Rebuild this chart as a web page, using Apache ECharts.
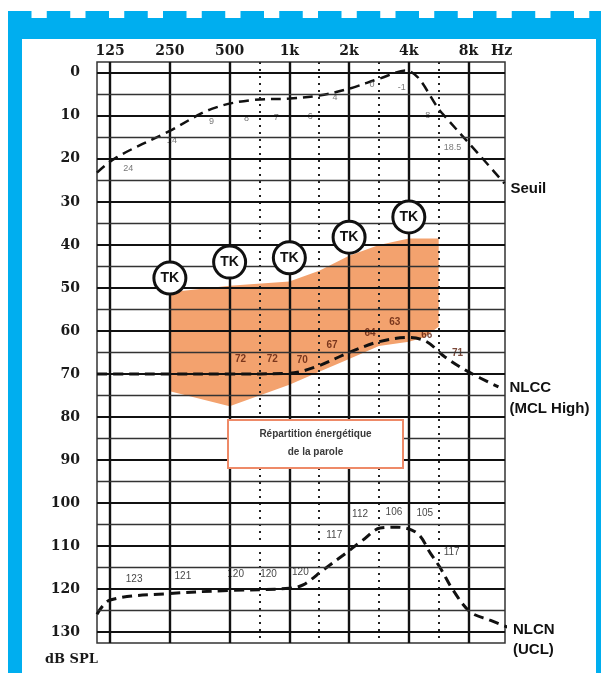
<!DOCTYPE html>
<html><head><meta charset="utf-8">
<script src="https://cdn.jsdelivr.net/npm/echarts@6/dist/echarts.min.js"></script>
<style>html,body{margin:0;padding:0;background:#fff}#c{width:601px;height:673px}</style>
</head><body><div id="c"></div>
<script>
// ---- axes ----
const freqLabels   = ['125','250','500','1k','2k','4k','8k'];
const freqOctaves  = [0,1,2,3,4,5,6];          // octaves above 125 Hz
const halfOctaves  = [2.5,3.5,4.5,5.5];        // 750, 1.5k, 3k, 6k (dotted)
const dbTicks      = [0,10,20,30,40,50,60,70,80,90,100,110,120,130];
const dbGridLines  = [0,5,10,15,20,25,30,35,40,45,50,55,60,65,70,75,80,85,90,95,100,105,110,115,120,125,130];

// ---- Seuil (threshold) ----
const seuilOct = [-0.22, 0.1, 1, 1.7, 2.4, 3, 3.5, 4, 4.5, 4.95, 5.55, 6.15, 6.6];
const seuilDb  = [23.2, 19.7, 13.5, 8.4, 6.3, 6, 5.3, 3.7, 1.4, -0.5, 9.3, 18.6, 25.7];
const seuilLabelOct = [0, 1, 2, 2.5, 3, 3.5, 4, 4.5, 5, 5.5, 6];
const seuilLabelVal = [24, 14, 9, 8, 7, 6, 4, 0, -1, 8, 18.5];

// ---- NLCC (MCL High) ----
const nlccOct = [-0.22, 0, 1, 2, 3, 3.45, 4, 4.5, 5, 5.3, 5.6, 6, 6.5];
const nlccDb  = [70, 70, 70, 70, 69.8, 68.3, 65, 62.5, 61.5, 62.5, 66, 69.5, 73];
const nlccLabelOct = [2.5, 3, 3.5, 4, 4.5, 5, 5.5, 6];
const nlccLabelVal = [72, 72, 70, 67, 64, 63, 66, 71];

// ---- NLCN (UCL) ----
const nlcnOct = [-0.22, 0, 1, 2, 3, 3.23, 3.56, 3.9, 4.23, 4.52, 4.8, 5.14, 5.36, 5.52, 5.74, 6.03, 6.36, 6.65];
const nlcnDb  = [125.8, 122.5, 121, 120.3, 119.8, 119, 115.6, 112.1, 108.6, 105.8, 105.6, 107, 111.6, 114.9, 120.2, 125.3, 127.2, 128.8];
const nlcnLabelOct = [0, 1, 2, 2.5, 3, 3.5, 4, 4.5, 5, 5.5];
const nlcnLabelVal = [123, 121, 120, 120, 120, 117, 112, 106, 105, 117];

// ---- TK markers ----
const tkOct = [1, 2, 3, 4, 5];
const tkDb  = [47.7, 44, 43, 38.2, 33.5];

// ---- speech energy region ----
const regionTopOct = [1, 2, 3, 3.5, 4, 4.5, 5, 5.5];
const regionTopDb  = [51, 49.5, 48.5, 46, 42.5, 40, 38.5, 38.5];
const regionBotOct = [1, 2, 3, 3.5, 4, 4.5, 5, 5.25, 5.5];
const regionBotDb  = [74, 77.5, 72.5, 69.5, 66.5, 63.5, 62.5, 61.5, 59];

// ---- label placement (style only, pixels) ----
const seuilLabelShift = [[18,-8],[2,8],[-18,10],[-13,11],[-13,15],[-9,18],[-14,8],[-7,12],[-7,19],[-11,8],[-16,-5]];
const nlccLabelShift  = [[-19,-23],[-17,-23],[-17,-14],[-17,-16],[-9,-15],[-14,-22],[-12,-22],[-11,-25]];
const nlcnLabelShift  = [[24,-23],[13,-17],[6,-15],[9,-15],[11,-17],[15,-41],[11,-41],[15,-17],[16,-11],[13,-24]];

const serif = '"DejaVu Serif", serif';
const sans = '"Liberation Sans", Arial, sans-serif';
const pairs = (xs, ys) => xs.map((x, i) => [x, ys[i]]);

const gridLines = [];
freqOctaves.forEach(o => gridLines.push({ xAxis: o, lineStyle: { color: '#111', width: 2.4, type: 'solid' } }));
halfOctaves.forEach(o => gridLines.push({ xAxis: o, lineStyle: { color: '#222', width: 2, type: [2, 5] } }));
dbGridLines.forEach(d => gridLines.push({ yAxis: d, lineStyle: d % 10 === 0 ? { color: '#111', width: 2, type: 'solid' } : { color: '#333', width: 1.3, type: 'solid' } }));

const dashed = (w) => ({ color: '#111', width: w, type: [10, 6], cap: 'butt' });

const labelSeries = (name, xs, vals, shifts, font) => ({
  name, type: 'scatter', z: 3, silent: true, symbolSize: 1,
  itemStyle: { color: 'transparent' },
  data: xs.map((x, i) => ({ value: [x, vals[i]], label: { offset: shifts[i] } })),
  label: Object.assign({ show: true, position: 'inside', formatter: p => String(p.value[1]) }, font)
});

const blueFrame = [];
blueFrame.push({ type: 'rect', shape: { x: 8, y: 18, width: 593, height: 21 }, style: { fill: '#00AEEF' } });
blueFrame.push({ type: 'rect', shape: { x: 8, y: 18, width: 14, height: 655 }, style: { fill: '#00AEEF' } });
blueFrame.push({ type: 'rect', shape: { x: 596, y: 18, width: 5, height: 655 }, style: { fill: '#00AEEF' } });
for (let x = 8; x < 601; x += 38.75) {
  blueFrame.push({ type: 'rect', shape: { x: x, y: 11, width: Math.min(23.5, 601 - x), height: 8 }, style: { fill: '#00AEEF' } });
}

const endLabelFont = { fontFamily: sans, fontWeight: 'bold', fontSize: 15, color: '#111' };

const option = {
  backgroundColor: '#fff',
  animation: false,
  grid: { left: 97, top: 62, width: 408, height: 581, show: true, borderColor: '#333', borderWidth: 1.5, backgroundColor: 'transparent' },
  xAxis: {
    type: 'value', position: 'top', min: -0.22, max: 6.61,
    axisLine: { show: false }, axisTick: { show: false }, splitLine: { show: false },
    axisLabel: {
      customValues: freqOctaves, margin: 4,
      formatter: v => freqLabels[freqOctaves.indexOf(v)] || '',
      fontFamily: serif, fontWeight: 'bold', fontSize: 14, color: '#1a1a1a'
    }
  },
  yAxis: {
    type: 'value', inverse: true, min: -2.5, max: 132.5,
    axisLine: { show: false }, axisTick: { show: false }, splitLine: { show: false },
    axisLabel: {
      customValues: dbTicks, margin: 17,
      fontFamily: serif, fontWeight: 'bold', fontSize: 14, color: '#1a1a1a'
    }
  },
  graphic: blueFrame.concat([
    { type: 'text', x: 491, y: 51, style: { text: 'Hz', font: 'bold 14px ' + serif, fill: '#1a1a1a', verticalAlign: 'middle' } },
    { type: 'text', x: 45, y: 660, style: { text: 'dB SPL', font: 'bold 13px ' + serif, fill: '#1a1a1a', verticalAlign: 'middle' } },
    { type: 'rect', z: 100, zlevel: 1, shape: { x: 228, y: 420, width: 175, height: 48 }, style: { fill: '#fff', stroke: '#EE8A68', lineWidth: 2 } },
    { type: 'text', z: 101, zlevel: 1, x: 315.5, y: 443.5, style: { text: 'Répartition énergétique\nde la parole', font: 'bold 10px ' + sans, fill: '#3a3a3a', align: 'center', verticalAlign: 'middle', lineHeight: 18 } }
  ]),
  series: [
    { name: 'region', type: 'custom', z: 0, silent: true, data: [0],
      renderItem: (params, api) => {
        const pts = regionTopOct.map((o, i) => api.coord([o, regionTopDb[i]]));
        for (let i = regionBotOct.length - 1; i >= 0; i--) pts.push(api.coord([regionBotOct[i], regionBotDb[i]]));
        return { type: 'polygon', shape: { points: pts }, style: { fill: '#F3A26E' } };
      } },
    { name: 'grid', type: 'line', z: 1, silent: true, data: [[0, 0]], showSymbol: false, lineStyle: { opacity: 0 },
      markLine: { silent: true, symbol: 'none', label: { show: false }, data: gridLines } },
    { name: 'Seuil', type: 'line', z: 3, smooth: 0.35, showSymbol: false, data: pairs(seuilOct, seuilDb), lineStyle: dashed(2.5),
      endLabel: Object.assign({ show: true, formatter: 'Seuil', offset: [-2, 5] }, endLabelFont) },
    { name: 'NLCC', type: 'line', z: 3, smooth: 0.35, showSymbol: false, data: pairs(nlccOct, nlccDb), lineStyle: dashed(3),
      endLabel: Object.assign({ show: true, formatter: 'NLCC\n(MCL High)', offset: [3, 11], lineHeight: 21 }, endLabelFont) },
    { name: 'NLCN', type: 'line', z: 3, smooth: 0.35, showSymbol: false, data: pairs(nlcnOct, nlcnDb), lineStyle: dashed(3),
      endLabel: Object.assign({ show: true, formatter: 'NLCN\n(UCL)', offset: [-2, 13], lineHeight: 20 }, endLabelFont) },
    labelSeries('seuilLabels', seuilLabelOct, seuilLabelVal, seuilLabelShift, { fontFamily: sans, fontSize: 9, color: '#555' }),
    labelSeries('nlccLabels', nlccLabelOct, nlccLabelVal, nlccLabelShift, { fontFamily: sans, fontSize: 10, fontWeight: 'bold', color: '#5a1a08' }),
    labelSeries('nlcnLabels', nlcnLabelOct, nlcnLabelVal, nlcnLabelShift, { fontFamily: sans, fontSize: 10, color: '#111' }),
    { name: 'TK', type: 'scatter', z: 10, silent: true, symbol: 'circle', symbolSize: 32,
      data: pairs(tkOct, tkDb),
      itemStyle: { color: '#fff', borderColor: '#111', borderWidth: 3, opacity: 1 },
      label: { show: true, position: 'inside', formatter: 'TK', fontFamily: sans, fontWeight: 'bold', fontSize: 14, color: '#111' } }
  ]
};
const chart = echarts.init(document.getElementById('c'), null, { renderer: 'canvas' });
chart.setOption(option);
</script></body></html>
